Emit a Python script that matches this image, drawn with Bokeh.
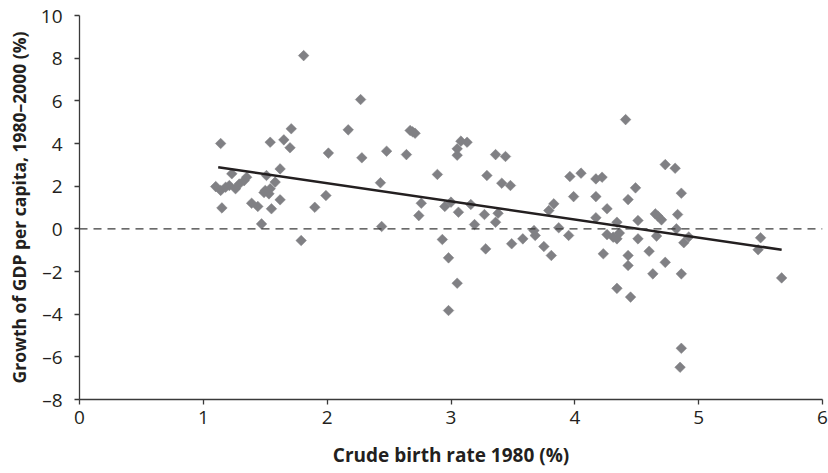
import numpy as np
from bokeh.plotting import figure
from bokeh.models import Range1d, FixedTicker, Span, ColumnDataSource
from bokeh.embed import file_html
from bokeh.resources import INLINE

# Crude birth rate 1980 (%)
birth_rate = [
    1.10, 1.14, 1.14, 1.15, 1.18, 1.21, 1.23, 1.26, 1.29, 1.33, 1.35, 1.39, 1.44, 1.47,
    1.49, 1.50, 1.51, 1.53, 1.54, 1.54, 1.55, 1.58, 1.62, 1.62, 1.65, 1.70, 1.71, 1.79,
    1.81, 1.90, 1.99, 2.01,
    2.17, 2.27, 2.28, 2.43, 2.44, 2.48, 2.64, 2.67, 2.69, 2.71, 2.74, 2.76, 2.89, 2.93,
    2.95, 2.98, 2.98, 3.00, 3.05, 3.05, 3.05, 3.06, 3.08, 3.13, 3.16, 3.19, 3.27, 3.28,
    3.29, 3.36, 3.36, 3.38, 3.41, 3.44, 3.48, 3.49, 3.58, 3.67, 3.68, 3.75, 3.79, 3.81,
    3.83, 3.87, 3.95, 3.96, 3.99,
    4.05, 4.17, 4.22, 4.17, 4.17, 4.23, 4.26, 4.26, 4.31, 4.34, 4.36, 4.34, 4.34, 4.41,
    4.43, 4.43, 4.43, 4.45, 4.49, 4.51, 4.51, 4.60, 4.63, 4.65, 4.67, 4.70, 4.66, 4.73,
    4.73, 4.81, 4.82, 4.83, 4.86, 4.86, 4.88, 4.92, 4.86, 4.85, 5.48, 5.50, 5.67,
]
# Growth of GDP per capita, 1980-2000 (%)
gdp_growth = [
    1.98, 4.00, 1.80, 0.98, 1.95, 2.03, 2.58, 1.88, 2.10, 2.26, 2.42, 1.20, 1.05, 0.23,
    1.70, 1.80, 2.50, 1.64, 1.88, 4.06, 0.94, 2.19, 2.81, 1.36, 4.17, 3.80, 4.69, -0.55,
    8.12, 1.01, 1.56, 3.55,
    4.64, 6.06, 3.33, 2.16, 0.11, 3.64, 3.48, 4.61, 4.55, 4.48, 0.62, 1.20, 2.55, -0.50,
    1.05, -1.36, -3.83, 1.25, 3.75, 3.45, -2.55, 0.78, 4.11, 4.06, 1.14, 0.20, 0.67, -0.94,
    2.50, 3.48, 0.31, 0.73, 2.14, 3.39, 2.03, -0.70, -0.47, -0.08, -0.31, -0.83, 0.86, -1.25,
    1.17, 0.05, -0.31, 2.45, 1.51,
    2.61, 2.34, 2.42, 1.51, 0.52, -1.17, 0.94, -0.27, -0.39, -0.47, -0.20, 0.31, -2.79, 5.12,
    1.37, -1.25, -1.72, -3.20, 1.92, 0.39, -0.47, -1.05, -2.11, 0.70, 0.60, 0.42, -0.34, 3.01,
    -1.57, 2.84, 0.00, 0.67, 1.67, -2.11, -0.65, -0.38, -5.60, -6.49, -0.98, -0.42, -2.30,
]
# Fitted trend line end points
trend_x = [1.12, 5.67]
trend_y = [2.89, -0.98]

x_ticks = [0, 1, 2, 3, 4, 5, 6]
y_ticks = [-8, -6, -4, -2, 0, 2, 4, 6, 8, 10]
y_labels = {v: (("\u2013" + str(-v)) if v < 0 else str(v)) for v in y_ticks}

dark = "#231f20"
grey = "#808084"

p = figure(width=828, height=473, output_backend="svg", toolbar_location=None,
           x_range=Range1d(0, 6), y_range=Range1d(-8, 10),
           min_border_left=79, min_border_right=6, min_border_top=15, min_border_bottom=74)
p.outline_line_color = None
p.xgrid.visible = False
p.ygrid.visible = False
p.background_fill_color = "white"

zero = Span(location=0, dimension="width", line_color="#3a3a3a", line_width=1.2,
            line_dash="8 6")
p.add_layout(zero)

src = ColumnDataSource(dict(x=birth_rate, y=gdp_growth))
p.scatter("x", "y", source=src, marker="square", angle=np.pi / 4, size=7.5,
          fill_color=grey, line_color=grey, line_width=0.5)

p.line(trend_x, trend_y, line_color=dark, line_width=2.5)

for ax in (p.xaxis[0], p.yaxis[0]):
    ax.axis_line_color = "#3a3a3a"
    ax.axis_line_width = 1.3
    ax.major_tick_line_color = "#3a3a3a"
    ax.major_tick_line_width = 1.3
    ax.major_tick_out = 5
    ax.major_tick_in = 0
    ax.minor_tick_line_color = None
    ax.major_label_text_font = "Open Sans"
    ax.major_label_text_font_size = "19px"
    ax.major_label_text_color = dark
    ax.axis_label_text_font = "Open Sans"
    ax.axis_label_text_font_style = "bold"
    ax.axis_label_text_color = dark

p.xaxis[0].axis_label_text_font_size = "19px"
p.yaxis[0].axis_label_text_font_size = "17.5px"
p.xaxis[0].ticker = FixedTicker(ticks=x_ticks)
p.yaxis[0].ticker = FixedTicker(ticks=y_ticks)
p.yaxis[0].major_label_overrides = y_labels
p.xaxis[0].axis_label = "Crude birth rate 1980 (%)"
p.yaxis[0].axis_label = "Growth of GDP per capita, 1980\u20132000 (%)"
p.xaxis[0].major_label_standoff = 6
p.yaxis[0].major_label_standoff = 12
p.xaxis[0].axis_label_standoff = 15
p.yaxis[0].axis_label_standoff = 7

open("out.html", "w").write(file_html(p, INLINE))
